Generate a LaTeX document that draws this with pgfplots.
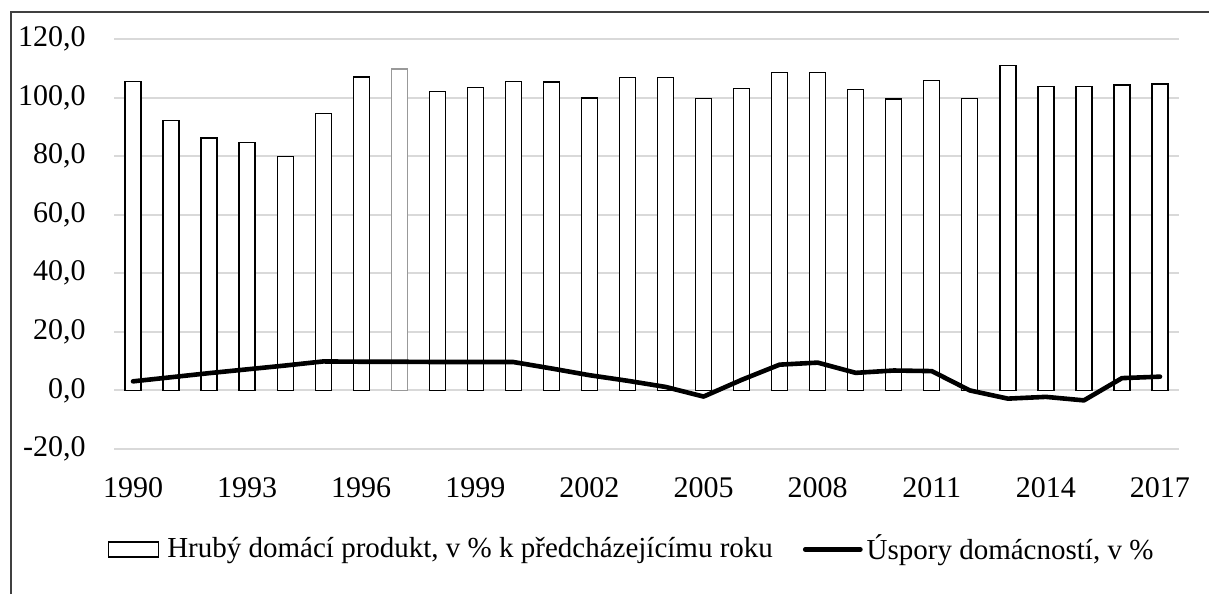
\documentclass[border=0pt]{standalone}
\usepackage{fontspec}
\setmainfont{Liberation Serif}
\usepackage{pgfplots}
\pgfplotsset{compat=1.18}
\begin{document}
\fontsize{15}{18}\selectfont
\begin{tikzpicture}
\useasboundingbox (0,0) rectangle (604.5pt,297pt);
\draw[black!75, line width=0.7pt] (5.5pt,0pt) -- (5.5pt,291pt) -- (604.5pt,291pt);
\begin{axis}[
  at={(57pt,72.5pt)}, anchor=south west,
  scale only axis, width=532.5pt, height=205pt,
  xmin=1989.5, xmax=2017.5, ymin=-20, ymax=120,
  xtick={1990,1993,1996,1999,2002,2005,2008,2011,2014,2017},
  ytick={-20,0,20,40,60,80,100,120},
  axis line style={draw=none}, tick style={draw=none},
  ymajorgrids, major grid style={line width=1pt, color=black!15},
  tick label style={font=\fontsize{15}{18}\selectfont},
  x tick label style={/pgf/number format/1000 sep={},/pgf/number format/assume math mode=true, yshift=-9pt},
  y tick label style={/pgf/number format/fixed,/pgf/number format/fixed zerofill,/pgf/number format/precision=1,/pgf/number format/use comma,/pgf/number format/assume math mode=true, xshift=-9pt},
  legend columns=2,
  legend style={at={(-0.00563,-0.2451)}, anchor=west, draw=none, fill=none,
    inner sep=0pt, outer sep=0pt, font=\fontsize{14.5}{17}\selectfont,
    nodes={inner sep=2pt},
    /tikz/every even column/.append style={column sep=13pt}},
]
\addplot[ybar, bar width=8pt, bar shift=0pt, draw=black, fill=white, line width=0.65pt,
  legend image code/.code={\draw[black, fill=white, line width=0.65pt] (0pt,-3.75pt) rectangle (25pt,3.75pt); \path (27pt,0pt);}]
coordinates {
(1990,105.6) (1991,92.1) (1992,86.2) (1993,84.6) (1994,79.9) (1995,94.5) (1996,107.0)
(1998,102.1) (1999,103.5) (2000,105.5) (2001,105.3) (2002,99.9) (2003,106.9) (2004,106.9)
(2005,99.7) (2006,103.0) (2007,108.5) (2008,108.5) (2009,102.8) (2010,99.5) (2011,105.9)
(2012,99.7) (2013,110.9) (2014,103.8) (2015,103.8) (2016,104.3) (2017,104.6)
};
\addlegendentry{Hrubý domácí produkt, v \% k předcházejícímu roku}
\addplot[ybar, bar width=8pt, bar shift=0pt, draw=black!40, fill=white, line width=0.65pt, forget plot]
coordinates {(1997,109.8)};
\addplot[sharp plot, black, line width=2.3pt, line join=round, line cap=round, mark=none,
  legend image code/.code={\draw[black, line width=2.4pt] (0pt,0pt) -- (27.5pt,0pt);}]
coordinates {
(1990,3.1) (1991,4.5) (1992,5.9) (1993,7.2) (1994,8.5) (1995,9.9) (1996,9.8) (1997,9.8)
(1998,9.7) (1999,9.7) (2000,9.7) (2001,7.5) (2002,5.2) (2003,3.3) (2004,1.2) (2005,-2.1)
(2006,3.6) (2007,8.8) (2008,9.5) (2009,6.0) (2010,6.8) (2011,6.6) (2012,0.0) (2013,-2.8)
(2014,-2.2) (2015,-3.4) (2016,4.2) (2017,4.7)
};
\addlegendentry{Úspory domácností, v \%}
\end{axis}
\end{tikzpicture}
\end{document}
